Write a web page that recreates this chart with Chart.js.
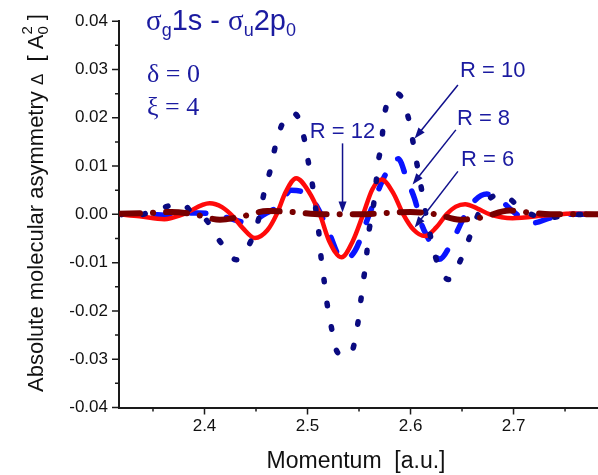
<!DOCTYPE html>
<html>
<head>
<meta charset="utf-8">
<script src="https://cdn.jsdelivr.net/npm/chart.js@4.4.0/dist/chart.umd.min.js"></script>
<style>
  html, body { margin: 0; padding: 0; background: #fff; }
  canvas { display: block; }
</style>
</head>
<body>
<canvas id="asym" width="598" height="475"></canvas>
<script>
// momentum (a.u.) / asymmetry values for each internuclear distance R
const r6X = [2.317, 2.337, 2.361, 2.379, 2.405, 2.417, 2.428, 2.437, 2.449, 2.461, 2.470, 2.479, 2.489, 2.501, 2.512, 2.521, 2.533, 2.544, 2.554, 2.563, 2.572, 2.583, 2.593, 2.603, 2.614, 2.625, 2.635, 2.644, 2.653, 2.665, 2.677, 2.699, 2.732, 2.759, 2.782];
const r6Y = [0.0000, -0.0004, -0.0010, 0.0000, 0.0023, 0.0015, -0.0005, -0.0028, -0.0049, -0.0033, 0.0000, 0.0047, 0.0075, 0.0048, 0.0000, -0.0055, -0.0089, -0.0055, 0.0000, 0.0052, 0.0072, 0.0045, 0.0000, -0.0032, -0.0045, -0.0027, 0.0000, 0.0016, 0.0021, 0.0012, 0.0000, -0.0008, -0.0002, 0.0002, 0.0000];

const r8X = [2.317, 2.347, 2.361, 2.381, 2.395, 2.410, 2.424, 2.439, 2.449, 2.458, 2.473, 2.484, 2.497, 2.510, 2.521, 2.534, 2.546, 2.560, 2.575, 2.588, 2.597, 2.604, 2.611, 2.617, 2.628, 2.640, 2.650, 2.657, 2.674, 2.686, 2.699, 2.718, 2.735, 2.750, 2.782];
const r8Y = [0.0000, 0.0000, -0.0002, 0.0003, 0.0003, -0.0001, -0.0008, -0.0016, -0.0012, 0.0000, 0.0019, 0.0050, 0.0044, 0.0013, -0.0039, -0.0094, -0.0076, 0.0000, 0.0080, 0.0115, 0.0069, 0.0032, -0.0022, -0.0049, -0.0093, -0.0058, -0.0014, 0.0015, 0.0042, 0.0032, 0.0007, -0.0018, -0.0008, 0.0000, 0.0000];

const r10X = [2.317, 2.332, 2.353, 2.378, 2.390, 2.399, 2.414, 2.431, 2.446, 2.453, 2.458, 2.464, 2.469, 2.476, 2.484, 2.490, 2.497, 2.501, 2.505, 2.508, 2.511, 2.513, 2.516, 2.519, 2.523, 2.528, 2.535, 2.542, 2.548, 2.551, 2.554, 2.557, 2.559, 2.563, 2.566, 2.568, 2.572, 2.574, 2.581, 2.587, 2.592, 2.599, 2.603, 2.607, 2.611, 2.615, 2.620, 2.626, 2.637, 2.650, 2.659, 2.668, 2.679, 2.688, 2.709, 2.732, 2.754, 2.782];
const r10Y = [0.0000, -0.0003, 0.0009, 0.0023, -0.0001, -0.0006, -0.0053, -0.0094, -0.0051, -0.0006, 0.0046, 0.0093, 0.0143, 0.0190, 0.0210, 0.0204, 0.0155, 0.0106, 0.0058, 0.0011, -0.0038, -0.0086, -0.0135, -0.0185, -0.0232, -0.0281, -0.0293, -0.0289, -0.0238, -0.0191, -0.0141, -0.0094, -0.0045, 0.0003, 0.0052, 0.0099, 0.0149, 0.0196, 0.0245, 0.0250, 0.0239, 0.0190, 0.0143, 0.0095, 0.0048, -0.0001, -0.0051, -0.0100, -0.0135, -0.0088, -0.0038, 0.0011, 0.0036, 0.0042, 0.0009, -0.0008, -0.0001, 0.0000];

const r12X = [2.317, 2.347, 2.368, 2.390, 2.415, 2.437, 2.461, 2.485, 2.514, 2.534, 2.552, 2.577, 2.600, 2.625, 2.648, 2.670, 2.696, 2.718, 2.745, 2.782];
const r12Y = [0.0001, 0.0003, 0.0005, 0.0000, -0.0011, -0.0004, 0.0007, 0.0005, 0.0000, 0.0000, 0.0000, 0.0003, 0.0005, 0.0000, -0.0011, -0.0006, 0.0008, 0.0003, 0.0000, 0.0000];

// axis ticks
const xMajor = [2.4, 2.5, 2.6, 2.7];
const xMinor = [2.35, 2.45, 2.55, 2.65, 2.75];
const yMajor = [-0.04, -0.03, -0.02, -0.01, 0.00, 0.01, 0.02, 0.03, 0.04];
const yMinor = [-0.035, -0.025, -0.015, -0.005, 0.005, 0.015, 0.025, 0.035];

// labels pointing at each curve: [text, textX, textY, arrow from x,y, arrow to x,y]
const curveLabels = [
  ['R = 12', 2.534, 0.0171, 2.534, 0.0147, 2.534, 0.0004],
  ['R = 10', 2.648, 0.0296, 2.646, 0.0268, 2.604, 0.0157],
  ['R = 8', 2.645, 0.0197, 2.644, 0.0175, 2.602, 0.0062],
  ['R = 6', 2.649, 0.0112, 2.646, 0.0089, 2.604, -0.0027]
];

const SANS = '"Liberation Sans", Arial, sans-serif';
const SERIF = '"Liberation Serif", "Times New Roman", serif';
const INK = '#1b1ba0';

function pts(xs, ys) {
  return xs.map((v, i) => ({ x: v, y: ys[i] }));
}

function runs(ctx, list, x, y) {
  list.forEach(r => {
    ctx.font = r.font;
    ctx.fillText(r.t, x, y + (r.dy || 0));
    x += ctx.measureText(r.t).width + (r.gap || 0);
  });
  return x;
}

function arrow(ctx, x1, y1, x2, y2) {
  const ang = Math.atan2(y2 - y1, x2 - x1);
  const len = 11, half = 4;
  ctx.beginPath();
  ctx.moveTo(x1, y1);
  ctx.lineTo(x2 - Math.cos(ang) * len * 0.8, y2 - Math.sin(ang) * len * 0.8);
  ctx.stroke();
  ctx.beginPath();
  ctx.moveTo(x2, y2);
  ctx.lineTo(x2 - Math.cos(ang) * len - Math.sin(ang) * half, y2 - Math.sin(ang) * len + Math.cos(ang) * half);
  ctx.lineTo(x2 - Math.cos(ang) * len + Math.sin(ang) * half, y2 - Math.sin(ang) * len - Math.cos(ang) * half);
  ctx.closePath();
  ctx.fill();
}

const decor = {
  id: 'decor',
  afterDraw(chart) {
    const { ctx, chartArea: a } = chart;
    const sx = chart.scales.x, sy = chart.scales.y;
    ctx.save();

    // outward ticks, short ones for the minors
    ctx.strokeStyle = '#1a1a1a';
    ctx.lineWidth = 1.5;
    ctx.beginPath();
    xMajor.forEach(v => { const p = sx.getPixelForValue(v); ctx.moveTo(p, a.bottom); ctx.lineTo(p, a.bottom + 7); });
    xMinor.forEach(v => { const p = sx.getPixelForValue(v); ctx.moveTo(p, a.bottom); ctx.lineTo(p, a.bottom + 4); });
    yMajor.forEach(v => { const p = sy.getPixelForValue(v); ctx.moveTo(a.left, p); ctx.lineTo(a.left - 7, p); });
    yMinor.forEach(v => { const p = sy.getPixelForValue(v); ctx.moveTo(a.left, p); ctx.lineTo(a.left - 4, p); });
    ctx.stroke();

    // axis titles
    ctx.fillStyle = '#111';
    ctx.textBaseline = 'alphabetic';
    ctx.font = '23px ' + SANS;
    ctx.textAlign = 'center';
    ctx.fillText('Momentum  [a.u.]', 356, 468);
    ctx.textAlign = 'left';

    const yTitle = [
      { t: 'Absolute molecular asymmetry ', font: '22px ' + SANS },
      { t: '\u0394', font: '17px ' + SANS },
      { t: '  [ A', font: '22px ' + SANS }
    ];
    ctx.save();
    ctx.translate(43, 0);
    ctx.rotate(-Math.PI / 2);
    let w = 0;
    yTitle.forEach(r => { ctx.font = r.font; w += ctx.measureText(r.t).width; });
    ctx.font = '15px ' + SANS;
    const sw = ctx.measureText('2').width;
    ctx.font = '22px ' + SANS;
    w += sw + ctx.measureText(' ]').width;
    let tx = -203 - w / 2;
    tx = runs(ctx, yTitle, tx, 0);
    ctx.font = '15px ' + SANS;
    ctx.fillText('2', tx, -11);
    ctx.fillText('0', tx, 5);
    tx += sw;
    ctx.font = '22px ' + SANS;
    ctx.fillText(' ]', tx, 0);
    ctx.restore();

    // transition and parameters
    ctx.fillStyle = INK;
    runs(ctx, [
      { t: '\u03c3', font: '29px ' + SERIF },
      { t: 'g', font: '18px ' + SANS, dy: 6 },
      { t: '1s - ', font: '29px ' + SANS },
      { t: '\u03c3', font: '29px ' + SERIF },
      { t: 'u', font: '18px ' + SANS, dy: 6 },
      { t: '2p', font: '29px ' + SANS },
      { t: '0', font: '18px ' + SANS, dy: 6 }
    ], 146, 30);
    runs(ctx, [{ t: '\u03b4 = 0', font: '26px ' + SERIF }], 147, 82);
    runs(ctx, [{ t: '\u03be = 4', font: '26px ' + SERIF }], 147, 115);

    // curve labels with arrows
    ctx.strokeStyle = '#10108c';
    ctx.lineWidth = 1.5;
    curveLabels.forEach(([t, lx, ly, x1, y1, x2, y2], i) => {
      ctx.fillStyle = INK;
      ctx.font = '22px ' + SANS;
      ctx.textBaseline = 'middle';
      ctx.textAlign = i === 0 ? 'center' : 'left';
      ctx.fillText(t, sx.getPixelForValue(lx), sy.getPixelForValue(ly));
      ctx.fillStyle = '#10108c';
      arrow(ctx, sx.getPixelForValue(x1), sy.getPixelForValue(y1), sx.getPixelForValue(x2), sy.getPixelForValue(y2));
    });
    ctx.restore();
  }
};

const line = (data, color, width, dash, order) => ({
  data, borderColor: color, borderWidth: width, borderDash: dash,
  borderCapStyle: 'round', borderJoinStyle: 'round',
  pointRadius: 0, cubicInterpolationMode: 'monotone', fill: false, order
});

new Chart(document.getElementById('asym'), {
  type: 'line',
  data: {
    datasets: [
      line(pts(r12X, r12Y), '#780000', 6, [21, 13, 0.1, 13], 1),
      line(pts(r10X, r10Y), '#0a0a80', 5.5, [2.5, 21.5], 2),
      line(pts(r6X, r6Y), '#ff0a0a', 4.5, [], 3),
      line(pts(r8X, r8Y), '#0a14ff', 5.5, [15, 21], 4)
    ]
  },
  options: {
    responsive: false,
    animation: false,
    layout: { padding: { top: 19, right: 0, bottom: 0, left: 0 } },
    plugins: { legend: { display: false }, tooltip: { enabled: false } },
    scales: {
      x: {
        type: 'linear', min: 2.317, max: 2.782,
        grid: { display: false, drawTicks: false },
        border: { color: '#1a1a1a', width: 2 },
        ticks: { color: '#111', padding: 9, font: { family: SANS, size: 17 }, callback: v => v.toFixed(1) },
        afterBuildTicks: s => { s.ticks = xMajor.map(v => ({ value: v })); },
        afterFit: s => { s.height = 67.5; }
      },
      y: {
        min: -0.04, max: 0.04,
        grid: { display: false, drawTicks: false },
        border: { color: '#1a1a1a', width: 2 },
        ticks: { color: '#111', padding: 11, font: { family: SANS, size: 17 }, callback: v => (Math.abs(v) < 1e-9 ? 0 : v).toFixed(2) },
        afterBuildTicks: s => { s.ticks = yMajor.map(v => ({ value: v })); },
        afterFit: s => { s.width = 119; }
      }
    }
  },
  plugins: [decor]
});
</script>
</body>
</html>
